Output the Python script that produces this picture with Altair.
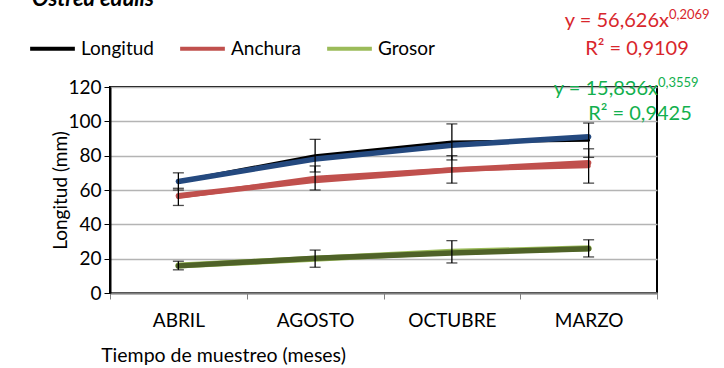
import altair as alt
import pandas as pd

months = ["ABRIL", "AGOSTO", "OCTUBRE", "MARZO"]
series_names = ["Longitud", "Anchura", "Grosor"]

longitud = [65, 80, 88, 89]
anchura = [56, 67, 72, 74]
grosor = [16, 20, 24, 26]

longitud_err = [5, 9.5, 10.5, 10]
anchura_err = [5, 7, 8, 10]
grosor_err = [2.5, 5, 6.5, 5]

longitud_trend = [65, 78, 86, 91]
anchura_trend = [56.6, 65.6, 71.6, 75.9]
grosor_trend = [15.8, 20.2, 23.3, 25.8]

y_ticks = [0, 20, 40, 60, 80, 100, 120]

FONT = "Lato"
FS = 19

rows = []
for name, vals, errs, trend in [
    ("Longitud", longitud, longitud_err, longitud_trend),
    ("Anchura", anchura, anchura_err, anchura_trend),
    ("Grosor", grosor, grosor_err, grosor_trend),
]:
    for m, v, e, t in zip(months, vals, errs, trend):
        rows.append({"mes": m, "serie": name, "valor": v, "lo": v - e, "hi": v + e, "trend": t})
df = pd.DataFrame(rows)

x_axis = alt.Axis(
    title="Tiempo de muestreo (meses)",
    labelAngle=0,
    labelFont=FONT,
    labelFontSize=FS,
    labelColor="#000000",
    labelPadding=12,
    tickBand="extent",
    tickColor="#808080",
    tickSize=6,
    domainColor="#808080",
    domainWidth=2,
    titleFont=FONT,
    titleFontSize=FS + 0.5,
    titleFontWeight="normal",
    titleColor="#000000",
    titleX=113,
    titleY=62,
    titleAlign="center",
    titleBaseline="middle",
)
x_scale = alt.Scale(paddingInner=0, paddingOuter=0)

y_scale = alt.Scale(domain=[0, 120], nice=False)
y_axis = alt.Axis(
    title="Longitud (mm)",
    values=y_ticks,
    tickCount=7,
    labelOverlap=False,
    labelFont=FONT,
    labelFontSize=FS,
    labelColor="#000000",
    labelPadding=3,
    tickColor="#000000",
    tickSize=6,
    domainColor="#000000",
    domainWidth=2,
    gridColor="#B4B4B4",
    gridWidth=1.5,
    titleFont=FONT,
    titleFontSize=FS,
    titleFontWeight="normal",
    titleColor="#000000",
    titleX=-50,
    titleY=103,
    titleAlign="center",
    titleBaseline="middle",
)


def X():
    return alt.X("mes:N", sort=months, scale=x_scale, axis=x_axis)


def Y(field):
    return alt.Y(field, type="quantitative", scale=y_scale, axis=y_axis)


base = alt.Chart(df)

data_lines = base.mark_line(strokeCap="round", strokeJoin="round").encode(
    x=X(),
    y=Y("valor"),
    color=alt.Color(
        "serie:N",
        sort=series_names,
        scale=alt.Scale(domain=series_names, range=["#000000", "#C0504D", "#9BBB59"]),
        legend=alt.Legend(
            title=None,
            orient="none",
            direction="horizontal",
            legendX=-82,
            legendY=-63,
            symbolType="stroke",
            symbolSize=2000,
            symbolStrokeWidth=4,
            labelFont=FONT,
            labelFontSize=FS,
            labelColor="#000000",
            labelOffset=4,
            columnPadding=18,
        ),
    ),
    strokeWidth=alt.StrokeWidth(
        "serie:N",
        scale=alt.Scale(domain=series_names, range=[3, 6, 6]),
        legend=None,
    ),
)

trend_colors = alt.Color(
    "serie:N",
    scale=alt.Scale(domain=series_names, range=["#24497F", "#C0504D", "#4F6228"]),
    legend=None,
)

trend_lines = base.mark_line(strokeCap="round", strokeJoin="round", strokeWidth=5.5).encode(
    x=X(),
    y=Y("trend"),
    color=trend_colors,
    detail="serie:N",
)

err_rules = base.mark_rule(color="#000000", strokeWidth=1.3).encode(
    x=X(),
    y=Y("lo"),
    y2="hi:Q",
)
cap_lo = base.mark_tick(color="#000000", orient="horizontal", size=11, thickness=1.3).encode(
    x=X(),
    y=Y("lo"),
)
cap_hi = base.mark_tick(color="#000000", orient="horizontal", size=11, thickness=1.3).encode(
    x=X(),
    y=Y("hi"),
)

ann = pd.DataFrame({"k": [0]})
abase = alt.Chart(ann)


def txt(text, x, y, size, color, align="left", weight="normal", style="normal"):
    return abase.mark_text(
        text=text, align=align, baseline="alphabetic", font=FONT, fontSize=size,
        color=color, fontWeight=weight, fontStyle=style,
    ).encode(x=alt.value(x), y=alt.value(y))


RED = "#D8262C"
GREEN = "#12B04E"
annotations = [
    txt("Ostrea edulis", -78, -81, 22, "#000000", weight="bold", style="italic"),
    txt("y = 56,626x", 559, -60, 20, RED, align="right"),
    txt("0,2069", 559, -68, 13, RED),
    txt("R² = 0,9109", 527, -32, 20, RED, align="center"),
    txt("y = 15,836x", 548, 8, 20, GREEN, align="right"),
    txt("0,3559", 548, 0, 13, GREEN),
    txt("R² = 0,9425", 530, 33, 20, GREEN, align="center"),
]

chart = alt.layer(data_lines, trend_lines, err_rules, cap_lo, cap_hi, *annotations).resolve_scale(
    color="independent"
).properties(
    width=547,
    height=206,
    padding={"left": 110, "top": 87, "right": 67, "bottom": 75},
    autosize=alt.AutoSizeParams(type="none"),
    background="#FFFFFF",
).configure_view(
    stroke="#000000", strokeWidth=2
)

chart.save("out.html", embed_options={"renderer": "svg", "actions": False})
